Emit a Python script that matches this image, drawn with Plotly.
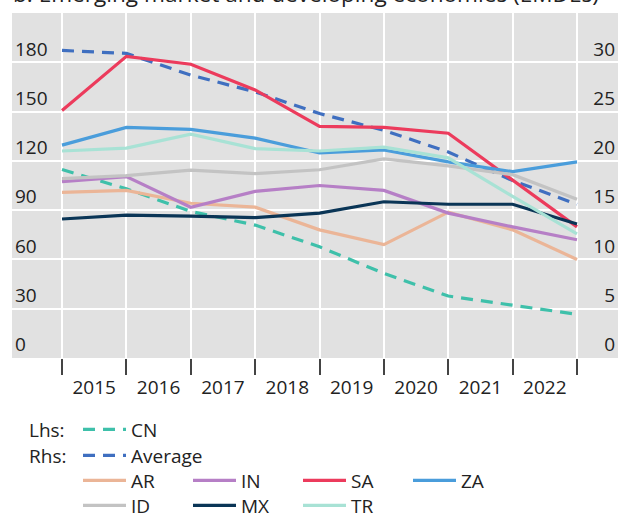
import plotly.graph_objects as go

# ---- data ----
year_labels = ["2015", "2016", "2017", "2018", "2019", "2020", "2021", "2022"]
year_centres = [2015, 2016, 2017, 2018, 2019, 2020, 2021, 2022]
period_ends = [2014.5, 2015.5, 2016.5, 2017.5, 2018.5, 2019.5, 2020.5, 2021.5, 2022.5]

cn = [114.7, 103.0, 89.2, 80.9, 67.7, 51.5, 37.7, 32.2, 26.6]          # lhs
average = [31.2, 30.9, 28.7, 27.0, 24.8, 23.1, 20.9, 18.0, 15.6]       # rhs
ar = [16.8, 17.0, 15.7, 15.3, 13.0, 11.5, 14.8, 13.0, 10.0]
in_ = [17.9, 18.4, 15.3, 16.9, 17.5, 17.0, 14.7, 13.3, 12.0]
sa = [25.1, 30.6, 29.8, 27.2, 23.5, 23.4, 22.8, 18.0, 13.3]
za = [21.6, 23.4, 23.2, 22.3, 20.8, 21.1, 19.9, 18.9, 19.9]
id_ = [18.2, 18.5, 19.05, 18.7, 19.1, 20.2, 19.5, 18.6, 16.1]
mx = [14.1, 14.5, 14.4, 14.25, 14.7, 15.85, 15.6, 15.6, 13.6]
tr = [21.0, 21.3, 22.7, 21.25, 21.0, 21.4, 20.3, 16.4, 12.6]

lhs_ticks = [0, 30, 60, 90, 120, 150, 180]
rhs_ticks = [0, 5, 10, 15, 20, 25, 30]

FONT = "Open Sans"
TXT = "#222222"

fig = go.Figure()

fig.add_trace(go.Scatter(x=period_ends, y=average, name="Average", mode="lines",
                         line=dict(color="#3F6FC0", width=3.2, dash="12px,8px"),
                         yaxis="y2", legend="legend2"))

countries = [
    ("AR", ar, "#EBB597", "legend3"),
    ("IN", in_, "#B67FC6", "legend3"),
    ("SA", sa, "#EC3B5C", "legend3"),
    ("ZA", za, "#4A9DDB", "legend3"),
    ("ID", id_, "#C3C3C3", "legend4"),
    ("MX", mx, "#0A3556", "legend4"),
    ("TR", tr, "#A8E2D5", "legend4"),
]
for name, vals, col, leg in countries:
    fig.add_trace(go.Scatter(x=period_ends, y=vals, name=name, mode="lines",
                             line=dict(color=col, width=3.2),
                             yaxis="y2", legend=leg))

fig.add_trace(go.Scatter(x=period_ends, y=cn, name="CN", mode="lines",
                         line=dict(color="#3EC0AA", width=3.2, dash="12px,8px"),
                         yaxis="y", legend="legend"))

LEG_X = 78 / 618
common_leg = dict(xref="container", yref="container", x=LEG_X,
                  xanchor="left", yanchor="top", itemwidth=43,
                  bgcolor="rgba(0,0,0,0)", font=dict(size=19, color=TXT))
row_leg = dict(orientation="h", entrywidth=52, entrywidthmode="pixels",
               tracegroupgap=0)

fig.update_layout(
    width=618, height=519,
    margin=dict(l=12, r=0, t=13, b=161, autoexpand=False),
    paper_bgcolor="white",
    plot_bgcolor="#E1E1E1",
    font=dict(family=FONT, size=19, color=TXT),
    xaxis=dict(
        range=[2013.723, 2023.137],
        tickmode="array", tickvals=year_centres, ticktext=year_labels,
        ticks="", showgrid=False, zeroline=False, showline=False,
        ticklabelstandoff=16,
        tickfont=dict(size=19, color=TXT),
        minor=dict(tickmode="linear", tick0=2014.5, dtick=1, ticks="outside",
                   ticklen=16, tickwidth=1.6, tickcolor="#444444",
                   showgrid=True, gridcolor="white", gridwidth=2),
    ),
    yaxis=dict(
        range=[0, 210], tickmode="array", tickvals=lhs_ticks,
        ticklabelposition="inside top", ticks="",
        showgrid=True, gridcolor="white", gridwidth=2,
        zeroline=False, showline=False,
        tickfont=dict(size=19, color=TXT),
    ),
    yaxis2=dict(
        range=[0, 35], tickmode="array", tickvals=rhs_ticks,
        overlaying="y", side="right",
        ticklabelposition="inside top", ticks="",
        showgrid=False, zeroline=False, showline=False,
        tickfont=dict(size=19, color=TXT),
    ),
    legend=dict(common_leg, y=1 - 410.5 / 519),
    legend2=dict(common_leg, y=1 - 436.5 / 519),
    legend3=dict(common_leg, y=1 - 461.5 / 519, **row_leg),
    legend4=dict(common_leg, y=1 - 486.5 / 519, **row_leg),
    showlegend=True,
)

fig.add_annotation(
    text="b. Emerging market and developing economies (EMDEs)",
    xref="paper", yref="paper", x=-0.002, y=(358 - 11) / 345,
    xanchor="left", yanchor="bottom", showarrow=False,
    font=dict(family=FONT, size=22.6, color=TXT),
)
for label, ypix in [("Lhs:", 430), ("Rhs:", 456)]:
    fig.add_annotation(
        text=label, xref="paper", yref="paper",
        x=(27 - 12) / 606, y=(358 - ypix) / 345,
        xanchor="left", yanchor="middle", showarrow=False,
        font=dict(family=FONT, size=19, color=TXT),
    )

fig.write_html("out.html", config={"displayModeBar": False},
               post_script="document.body.style.margin='0px';")
